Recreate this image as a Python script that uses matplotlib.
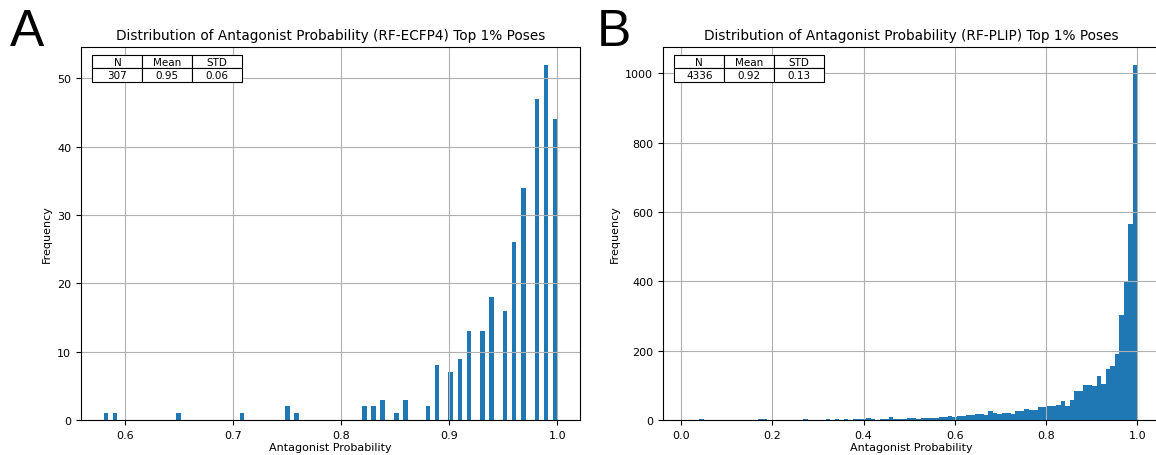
import matplotlib
matplotlib.use("Agg")
import matplotlib.pyplot as plt

# Panel A: RF-ECFP4 antagonist probabilities (discrete values) and their counts
a_values = [0.58, 0.59, 0.65, 0.71, 0.75, 0.76, 0.82, 0.83, 0.84, 0.85, 0.86,
            0.88, 0.89, 0.90, 0.91, 0.92, 0.93, 0.94, 0.95, 0.96, 0.97, 0.98, 0.99, 1.00]
a_counts = [1, 1, 1, 1, 2, 1, 2, 2, 3, 1, 3,
            2, 8, 7, 9, 13, 13, 18, 16, 26, 34, 47, 52, 44]

# Panel B: RF-PLIP antagonist probabilities and their counts
b_values = [0.01, 0.04, 0.17, 0.18, 0.27, 0.32, 0.34, 0.36, 0.38, 0.39, 0.40,
            0.41, 0.42, 0.43, 0.44, 0.45, 0.46, 0.47, 0.48, 0.49, 0.50,
            0.51, 0.52, 0.53, 0.54, 0.55, 0.56, 0.57, 0.58, 0.59, 0.60,
            0.61, 0.62, 0.63, 0.64, 0.65, 0.66, 0.67, 0.68, 0.69, 0.70,
            0.71, 0.72, 0.73, 0.74, 0.75, 0.76, 0.77, 0.78, 0.79, 0.80,
            0.81, 0.82, 0.83, 0.84, 0.85, 0.86, 0.87, 0.88, 0.89, 0.90,
            0.91, 0.92, 0.93, 0.94, 0.95, 0.96, 0.97, 0.98, 0.99, 1.00]
b_counts = [1, 2, 2, 3, 2, 2, 2, 3, 2, 2, 4,
            6, 2, 1, 2, 2, 8, 4, 2, 3, 5,
            6, 4, 7, 7, 6, 6, 8, 9, 11, 10,
            11, 12, 13, 15, 16, 18, 15, 25, 20, 16,
            20, 21, 18, 26, 25, 32, 30, 29, 37, 38,
            41, 41, 44, 54, 41, 59, 84, 84, 101, 101,
            97, 126, 104, 148, 157, 190, 302, 401, 565, 1025]

table_cols = ["N", "Mean", "STD"]
a_stats = ["307", "0.95", "0.06"]
b_stats = ["4336", "0.92", "0.13"]

titles = ["Distribution of Antagonist Probability (RF-ECFP4) Top 1% Poses",
          "Distribution of Antagonist Probability (RF-PLIP) Top 1% Poses"]
panel_letters = ["A", "B"]

W, H = 1156, 456
fig = plt.figure(figsize=(W / 100, H / 100), dpi=100)
axA = fig.add_axes([81 / W, 35 / H, 499 / W, 373 / H])
axB = fig.add_axes([663 / W, 35 / H, 497 / W, 373 / H])

for ax, vals, counts, title, stats in [
        (axA, a_values, a_counts, titles[0], a_stats),
        (axB, b_values, b_counts, titles[1], b_stats)]:
    ax.hist(vals, bins=100, weights=counts, color="#1f77b4")
    ax.grid(True, color="#b0b0b0", linewidth=0.8)
    ax.set_title(title, fontsize=9.8)
    ax.set_xlabel("Antagonist Probability", fontsize=8, labelpad=2)
    ax.set_ylabel("Frequency", fontsize=8)
    ax.tick_params(labelsize=8)
    tbl = ax.table(cellText=[stats], colLabels=table_cols, cellLoc="center",
                   bbox=[0.023, 0.906, 0.30, 0.073])
    tbl.set_zorder(5)
    tbl.auto_set_font_size(False)
    tbl.set_fontsize(7.5)
    for cell in tbl.get_celld().values():
        cell.set_linewidth(0.8)
        cell.set_facecolor("white")
        cell.PAD = 0.02
        cell.get_text().set_va("center")

fig.text(27 / W, 1 - 32 / H, panel_letters[0], fontsize=37, ha="center", va="center",
         family="Liberation Sans")
fig.text(614 / W, 1 - 33 / H, panel_letters[1], fontsize=37, ha="center", va="center",
         family="Liberation Sans")

fig.savefig("out.png", dpi=100)
